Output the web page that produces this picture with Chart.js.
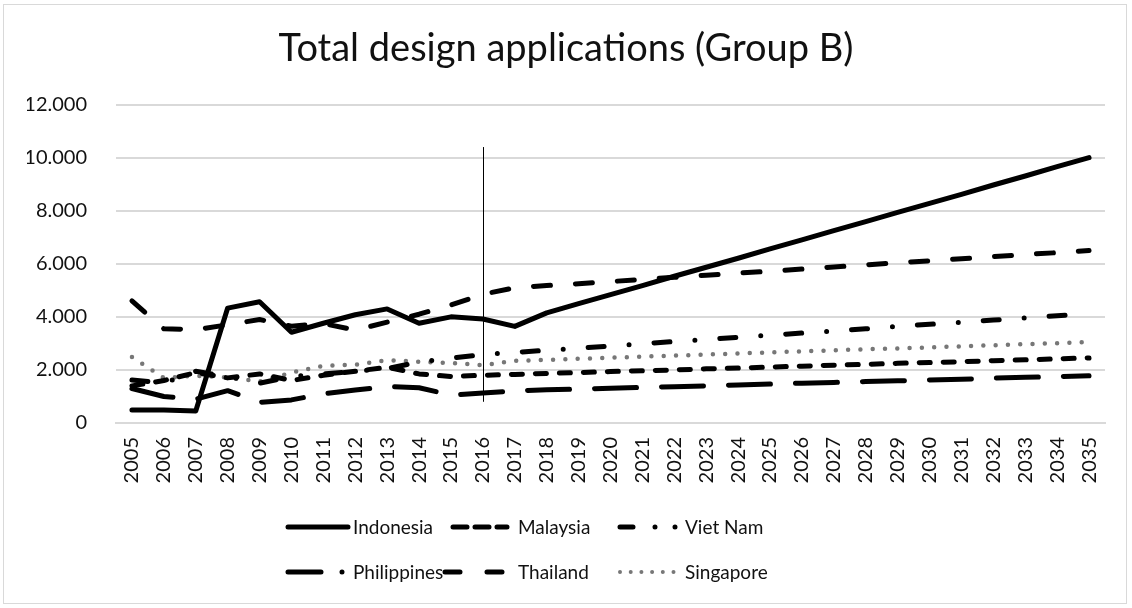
<!DOCTYPE html>
<html>
<head>
<meta charset="utf-8">
<script src="https://cdn.jsdelivr.net/npm/chart.js@4.4.1/dist/chart.umd.min.js"></script>
<style>
  body { margin: 0; background: #fff; font-family: Lato, sans-serif; }
  #wrap { position: relative; width: 1132px; height: 608px; }
  #frame { position: absolute; left: 3px; top: 4px; width: 1124px; height: 600px; border: 1px solid #d9d9d9; box-sizing: border-box; pointer-events: none; }
  #legend { position: absolute; left: 285px; top: 512px; display: grid; grid-template-columns: 165px 167px 170px; row-gap: 16px; font-size: 19px; color: #111; }
  .item { display: flex; align-items: center; height: 29px; white-space: nowrap; }
  .item svg { overflow: visible; margin-right: 2px; }
</style>
</head>
<body>
<div id="wrap">
  <canvas id="chart" width="1132" height="608"></canvas>
  <div id="frame"></div>
  <div id="legend"></div>
</div>
<script>
const years = ['2005', '2006', '2007', '2008', '2009', '2010', '2011', '2012', '2013', '2014',
    '2015', '2016', '2017', '2018', '2019', '2020', '2021', '2022', '2023', '2024',
    '2025', '2026', '2027', '2028', '2029', '2030', '2031', '2032', '2033', '2034', '2035'];

const indonesia = [490, 490, 450, 4330, 4570, 3420, 3760, 4080, 4300, 3760, 4000, 3920, 3640, 4150,
    4500, 4840, 5180, 5530, 5870, 6210, 6560, 6900, 7250, 7590, 7940, 8280, 8620, 8970, 9310, 9660, 10000];
const malaysia = [4600, 3550, 3520, 3700, 3900, 3650, 3750, 3500, 3800, 4100, 4450, 4850,
    5100, 5180, 5250, 5330, 5410, 5490, 5570, 5650, 5720, 5800, 5880, 5960, 6040, 6110, 6190, 6270, 6350, 6420, 6500];
const vietNam = [1620, 1500, 1950, 1750, 1500, 1750, 1850, 1950, 2050, 2300, 2450, 2580,
    2660, 2740, 2820, 2900, 2990, 3070, 3150, 3230, 3310, 3390, 3470, 3550, 3640, 3720, 3800, 3880, 3960, 4040, 4120];
const philippines = [1300, 1000, 900, 1220, 780, 870, 1100, 1240, 1380, 1330, 1050, 1130, 1210, 1250,
    1280, 1310, 1340, 1370, 1400, 1430, 1470, 1500, 1530, 1560, 1590, 1620, 1650, 1690, 1720, 1750, 1780];
const thailand = [1400, 1600, 1900, 1700, 1850, 1600, 1800, 1950, 2100, 1850, 1750, 1800,
    1830, 1870, 1900, 1940, 1970, 2000, 2040, 2070, 2110, 2140, 2180, 2210, 2250, 2280, 2310, 2350, 2380, 2420, 2450];
const singapore = [2490, 1700, 1780, 1720, 1560, 1900, 2150, 2200, 2370, 2310, 2260, 2180, 2340,
    2380, 2420, 2460, 2500, 2540, 2580, 2620, 2660, 2700, 2740, 2780, 2810, 2850, 2890, 2930, 2970, 3010, 3050];

const countries = ['Indonesia', 'Malaysia', 'Viet Nam', 'Philippines', 'Thailand', 'Singapore'];
const seriesValues = [indonesia, malaysia, vietNam, philippines, thailand, singapore];

// vertical marker line (year and value span)
const markerYear = '2016';
const markerSpan = [800, 10400];

const yMax = 12000;
const yStep = 2000;

// styles
const lineColors = ['#000', '#000', '#000', '#000', '#000', '#777'];
const lineDashes = [[], [17, 25], [16, 25, 0, 25], [42, 25], [11, 13], [0, 12.3]];
const lineWidths = [5, 5, 5, 5, 5, 4.5];
// legend samples: [x1, x2, dasharray]
const legendLines = [[3, 63, ''], [3, 57, '14 8'], [3, 59, '13 22 0 20 0 40'],
    [3, 60, '33 21 0 40'], [-5, 55, '15 27'], [3, 57, '0 10.7']];

const markerLine = {
    id: 'markerLine',
    afterDatasetsDraw(chart) {
        const { ctx, scales: { x, y } } = chart;
        const px = Math.round(x.getPixelForValue(years.indexOf(markerYear))) + 0.5;
        ctx.save();
        ctx.strokeStyle = '#000';
        ctx.lineWidth = 1;
        ctx.beginPath();
        ctx.moveTo(px, y.getPixelForValue(markerSpan[0]));
        ctx.lineTo(px, y.getPixelForValue(markerSpan[1]));
        ctx.stroke();
        ctx.restore();
    }
};

const ctx = document.getElementById('chart').getContext('2d');
new Chart(ctx, {
    type: 'line',
    data: {
        labels: years,
        datasets: countries.map((name, i) => ({
            label: name,
            data: seriesValues[i],
            borderColor: lineColors[i],
            backgroundColor: lineColors[i],
            borderWidth: lineWidths[i],
            borderDash: lineDashes[i],
            borderCapStyle: 'round',
            borderJoinStyle: 'round',
            pointRadius: 0,
            tension: 0,
            fill: false
        }))
    },
    options: {
        responsive: false,
        animation: false,
        layout: { padding: { left: 27, right: 27, top: 26, bottom: 115 } },
        plugins: {
            legend: { display: false },
            tooltip: { enabled: false },
            title: {
                display: true,
                text: 'Total design applications (Group B)',
                color: '#111',
                font: { family: 'Lato', size: 38, weight: 'normal' },
                padding: { top: 0, bottom: 33 }
            }
        },
        scales: {
            x: {
                offset: true,
                grid: { display: false, drawTicks: false },
                border: { color: '#d9d9d9', width: 2 },
                ticks: {
                    autoSkip: false,
                    maxRotation: 90,
                    minRotation: 90,
                    padding: 14,
                    color: '#111',
                    font: { family: 'Lato', size: 20 }
                },
                afterFit(s) { s.height = 70; }
            },
            y: {
                min: 0,
                max: yMax,
                grid: { color: '#d9d9d9', lineWidth: 2, drawTicks: false },
                border: { display: false },
                ticks: {
                    stepSize: yStep,
                    padding: 29,
                    color: '#111',
                    font: { family: 'Lato', size: 20 },
                    callback: (v) => String(v).replace(/\B(?=(\d{3})+(?!\d))/g, '.')
                },
                afterFit(s) { s.width = 89; }
            }
        }
    },
    plugins: [markerLine]
});

// legend: 2 rows of 3
let legendHtml = '';
countries.forEach((name, i) => {
    const [x1, x2, dash] = legendLines[i];
    legendHtml += `<div class="item"><svg width="66" height="10"><line x1="${x1}" y1="5" x2="${x2}" y2="5" stroke="${lineColors[i]}" stroke-width="${i == 5 ? 4 : 5}" stroke-linecap="round" stroke-dasharray="${dash}"/></svg><span>${name}</span></div>`;
});
document.getElementById('legend').innerHTML = legendHtml;
</script>
</body>
</html>
